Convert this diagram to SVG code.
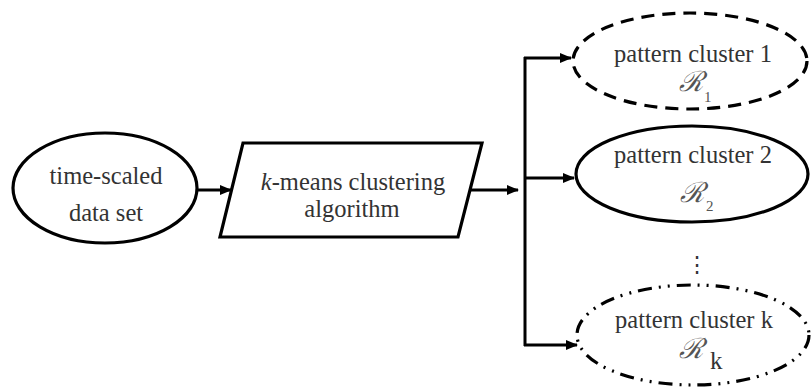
<svg xmlns="http://www.w3.org/2000/svg" width="811" height="387" viewBox="0 0 811 387">
<defs>
<marker id="ah" markerWidth="12" markerHeight="10" refX="11" refY="5" orient="auto" markerUnits="userSpaceOnUse">
<path d="M0,0 L12,5 L0,10 Z" fill="#000"/>
</marker>
<style>
.shape{fill:#fff;stroke:#000;stroke-width:3.2}
.conn{fill:none;stroke:#000;stroke-width:3}
text{font-family:'Liberation Serif','DejaVu Serif',serif}
.t{font-size:24.5px;fill:#333;text-anchor:middle}
.r{font-size:28px;fill:#555;font-style:italic}
.sub{font-size:15px;fill:#555}
</style>
</defs>
<rect width="811" height="387" fill="#fff"/>
<g id="connectors">
<line class="conn" x1="198" y1="190" x2="231" y2="190" marker-end="url(#ah)"/>
<line class="conn" x1="470" y1="190" x2="518" y2="190" marker-end="url(#ah)"/>
<line class="conn" x1="525" y1="57" x2="525" y2="346"/>
<line class="conn" x1="524" y1="58" x2="571" y2="58" marker-end="url(#ah)"/>
<line class="conn" x1="524" y1="178" x2="574" y2="178" marker-end="url(#ah)"/>
<line class="conn" x1="524" y1="345" x2="577" y2="345" marker-end="url(#ah)"/>
</g>
<g id="dataset">
<ellipse class="shape" cx="105" cy="188" rx="92" ry="55"/>
<text class="t" x="106" y="184">time-scaled</text>
<text class="t" x="106" y="221">data set</text>
</g>
<g id="kmeans">
<polygon class="shape" points="243,143 482,143 458,237 220,237"/>
<text class="t" x="353" y="190"><tspan font-style="italic">k</tspan>-means clustering</text>
<text class="t" x="352" y="217">algorithm</text>
</g>
<g id="cluster1">
<ellipse class="shape" cx="690" cy="61" rx="117" ry="48" stroke-dasharray="13 8"/>
<text class="t" x="693" y="62">pattern cluster 1</text>
<text class="r" x="679" y="91">ℛ</text>
<text class="sub" x="704" y="102">1</text>
</g>
<g id="cluster2">
<ellipse class="shape" cx="692" cy="174" rx="116" ry="48"/>
<text class="t" x="693" y="163">pattern cluster 2</text>
<text class="r" x="680" y="202">ℛ</text>
<text class="sub" x="706" y="211">2</text>
</g>
<g id="dots">
<text class="t" x="697" y="272" style="font-size:22px">⋮</text>
</g>
<g id="clusterk">
<ellipse class="shape" cx="693" cy="335" rx="116" ry="50" stroke-dasharray="14 7 2 7 2 7"/>
<text class="t" x="694" y="328">pattern cluster k</text>
<text class="r" x="679" y="358">ℛ</text>
<text x="710" y="369" style="font-size:25px;fill:#333">k</text>
</g>
</svg>
